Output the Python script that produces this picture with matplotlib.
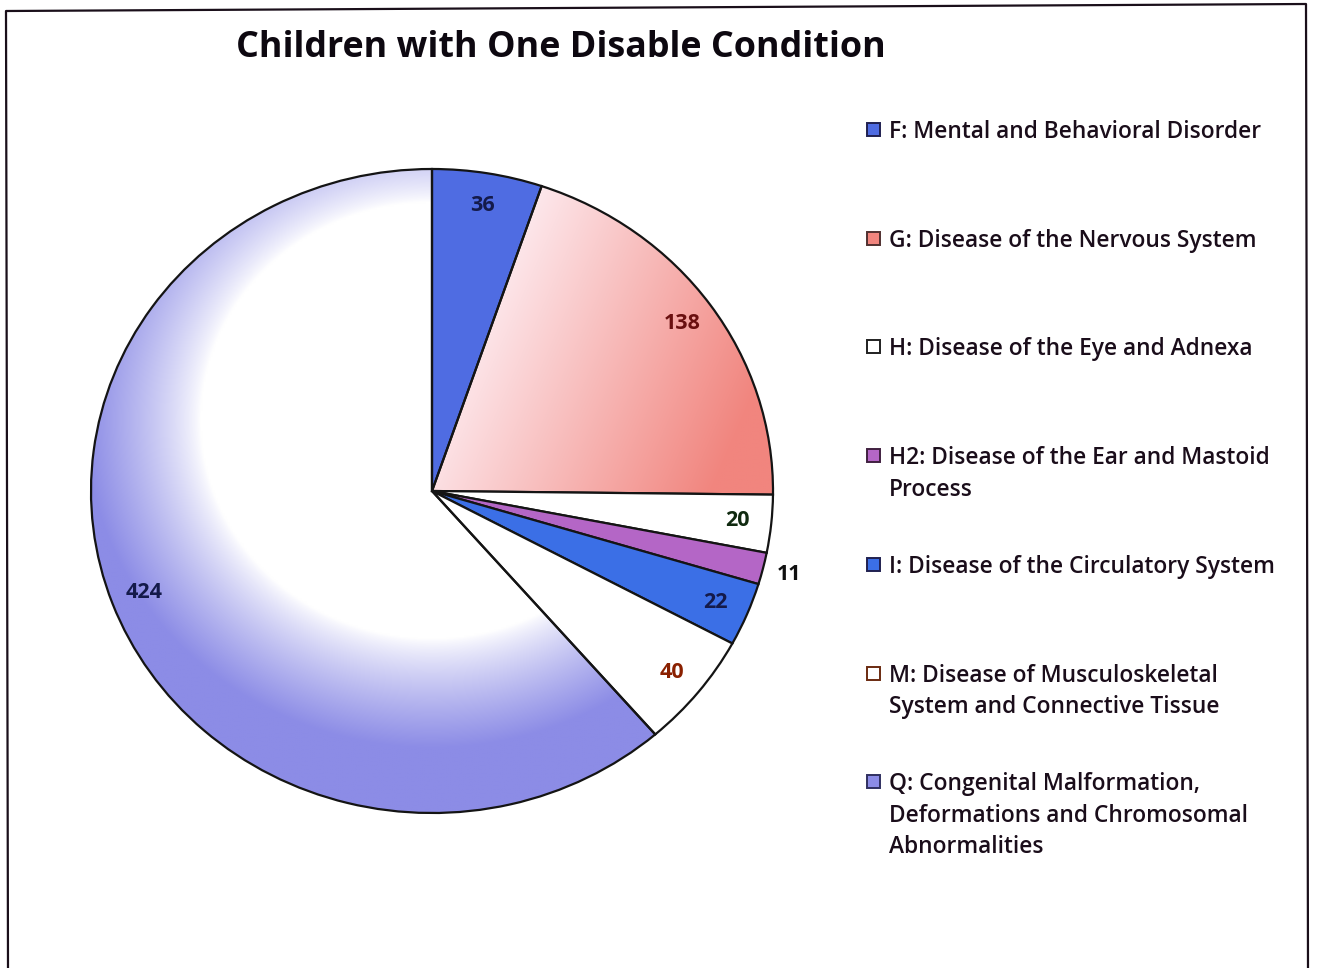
import numpy as np
import matplotlib.pyplot as plt
from matplotlib.colors import to_rgb
from matplotlib.lines import Line2D
from matplotlib.patches import Rectangle

plt.rcParams['font.family'] = ['Open Sans', 'DejaVu Sans']

title = "Children with One Disable Condition"
legend_labels = [
    "F: Mental and Behavioral Disorder",
    "G: Disease of the Nervous System",
    "H: Disease of the Eye and Adnexa",
    "H2: Disease of the Ear and Mastoid\nProcess",
    "I: Disease of the Circulatory System",
    "M: Disease of Musculoskeletal\nSystem and Connective Tissue",
    "Q: Congenital Malformation,\nDeformations and Chromosomal\nAbnormalities",
]
values = [36, 138, 20, 11, 22, 40, 424]
slice_colors = ["#4f6ce2", "#f1857e", "#ffffff", "#b466c6", "#3b6fe6", "#ffffff", "#8c8ce6"]
label_colors = ["#141a4a", "#6a1010", "#102a10", "#101010", "#141a4a", "#8a2000", "#141a4a"]
marker_edges = ["#202050", "#503030", "#202020", "#402040", "#202050", "#6a2a10", "#303060"]

W, H = 1321, 968
fig = plt.figure(figsize=(W / 100, H / 100), dpi=100)

# pixel-space overlay for frame, title and legend
bg = fig.add_axes([0, 0, 1, 1])
bg.set_xlim(0, W)
bg.set_ylim(H, 0)
bg.axis("off")

frame_x = [8, 6, 1306, 1308]
frame_y = [968, 11, 4, 968]
bg.add_line(Line2D(frame_x, frame_y, color="#1a0f1a", linewidth=1.6))

bg.text(561, 48, title, ha="center", va="center", fontsize=25.8,
        fontweight="bold", color="#0d0810")

# pie drawn slightly elliptical
cx, cy, rx, ry = 432, 491, 341, 322
ax = fig.add_axes([(cx - rx) / W, 1 - (cy + ry) / H, 2 * rx / W, 2 * ry / H])
wedges, _ = ax.pie(values, startangle=90, counterclock=False, colors=slice_colors,
                   wedgeprops=dict(edgecolor="#141414", linewidth=1.6))

n = 400
gx, gy = np.meshgrid(np.linspace(-1, 1, n), np.linspace(-1, 1, n))


def blend(c0, c1, t):
    a = np.array(to_rgb(c0))
    b = np.array(to_rgb(c1))
    return a + (b - a) * t[..., None]


# G: pale pink towards the centre, salmon towards the rim
tg = np.clip((gx * 0.85 - gy * 0.35 + 0.05) / 0.75, 0, 1)
grad_g = blend("#fde6ea", slice_colors[1], tg)
# Q: white core fading to lavender near the edge, paler at the top
d = np.sqrt(gx ** 2 + (gy - 0.22) ** 2)
tq = np.clip((d - 0.68) / 0.34, 0, 1) ** 0.8
grad_q = blend("#ffffff", slice_colors[6], tq)

for idx, img in [(1, grad_g), (6, grad_q)]:
    im = ax.imshow(img, extent=(-1, 1, -1, 1), origin="lower",
                   interpolation="bilinear", zorder=0.5)
    im.set_clip_path(wedges[idx])
    wedges[idx].set_facecolor("none")

for w in wedges:
    w.set_clip_on(False)

ax.set_aspect("auto")
ax.set_xlim(-1, 1)
ax.set_ylim(-1, 1)
ax.axis("off")

# value labels at the inside end of each slice
total = sum(values)
start = 90.0
for v, w, col in zip(values, wedges, label_colors):
    sweep = v / total * 360
    mid = np.deg2rad(start - sweep / 2)
    start -= sweep
    r = 1.08 if v / total < 0.02 else 0.9
    ax.text(r * np.cos(mid), r * np.sin(mid), str(v), ha="center", va="center",
            fontsize=15.5, fontweight="bold", color=col)

# legend laid out like the spreadsheet chart
for i, (lab, col, ec) in enumerate(zip(legend_labels, slice_colors, marker_edges)):
    y0 = 130 + i * 108.7
    bg.add_patch(Rectangle((867, y0 - 7), 13, 13, facecolor=col, edgecolor=ec,
                           linewidth=1.4))
    bg.text(889, y0 - 10, lab, ha="left", va="top", fontsize=16.4,
            fontweight="semibold", color="#1a0d1a", linespacing=1.42)

fig.savefig("out.png", dpi=100)
